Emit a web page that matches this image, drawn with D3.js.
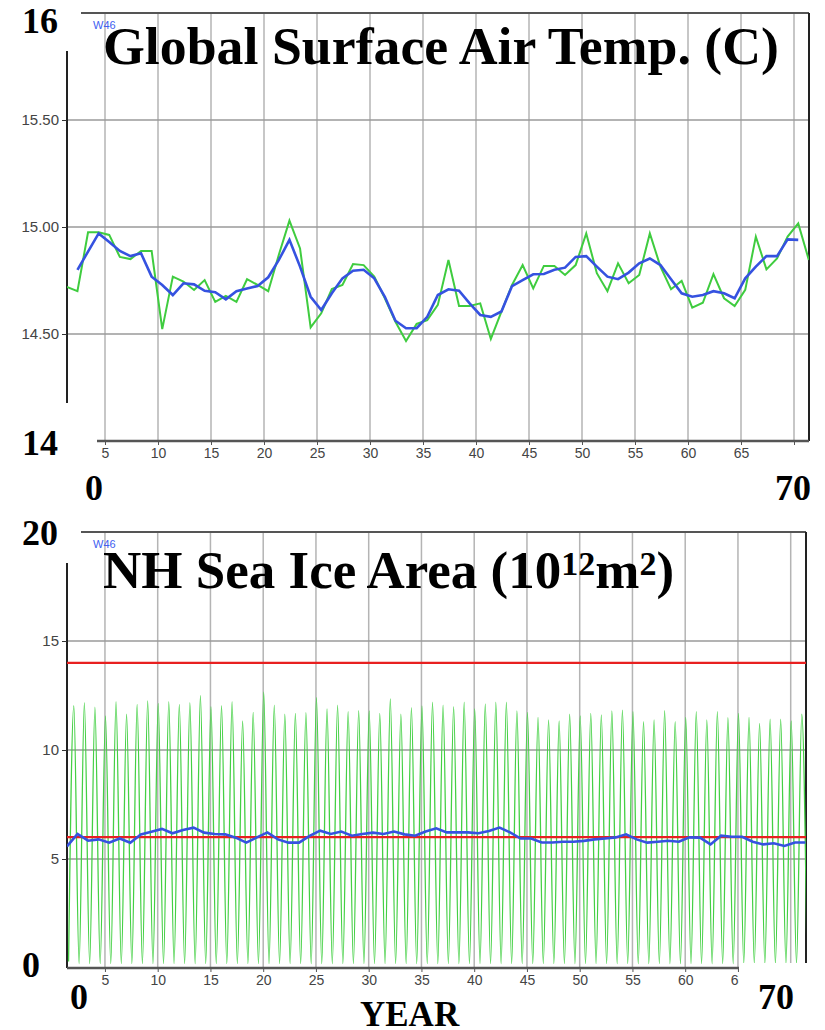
<!DOCTYPE html>
<html>
<head>
<meta charset="utf-8">
<script src="https://cdn.jsdelivr.net/npm/d3@7"></script>
<style>
body { margin: 0; background: #fff; }
svg { display: block; }
</style>
</head>
<body>
<div id="chart"></div>
<script>
// Global surface air temperature (C), one value per year, first one at year 1.4
var tempYear0 = 1.4;
var tempAnnual = [14.72, 14.70, 14.975, 14.975, 14.963, 14.86, 14.85, 14.888, 14.888, 14.523,
    14.768, 14.745, 14.706, 14.752, 14.65, 14.678, 14.65, 14.756, 14.729, 14.70,
    14.87, 15.03, 14.90, 14.531, 14.597, 14.71, 14.729, 14.827, 14.822, 14.768,
    14.667, 14.557, 14.467, 14.547, 14.565, 14.636, 14.846, 14.631, 14.631, 14.643,
    14.477, 14.605, 14.729, 14.822, 14.713, 14.818, 14.818, 14.776, 14.822, 14.97,
    14.784, 14.70, 14.83, 14.737, 14.776, 14.97, 14.815, 14.709, 14.748, 14.623,
    14.646, 14.78, 14.667, 14.631, 14.706, 14.955, 14.802, 14.853, 14.955, 15.017,
    14.846];
// running mean, starts one year after the annual series
var tempSmoothOffset = 1;
var tempSmooth = [14.80, 14.885, 14.97, 14.93, 14.888, 14.864, 14.877, 14.768, 14.729, 14.682,
    14.737, 14.732, 14.702, 14.695, 14.662, 14.70, 14.713, 14.724, 14.765, 14.846,
    14.94, 14.815, 14.674, 14.612, 14.69, 14.76, 14.796, 14.80, 14.76, 14.674,
    14.562, 14.527, 14.527, 14.58, 14.682, 14.709, 14.702, 14.643, 14.589, 14.58,
    14.605, 14.724, 14.752, 14.779, 14.78, 14.80, 14.81, 14.86, 14.864, 14.815,
    14.768, 14.756, 14.787, 14.83, 14.853, 14.822, 14.756, 14.69, 14.674, 14.682,
    14.70, 14.69, 14.667, 14.76, 14.815, 14.864, 14.864, 14.942, 14.94];
var tempTicks = [14.5, 15, 15.5];

// NH sea ice area (10^12 m^2): yearly maxima (from year 2.05) and minima (from year 1.55)
var iceMaxYear0 = 2.05;
var iceMax = [12.03, 12.17, 11.96, 11.56, 12.22, 11.64, 12.09, 12.25, 12.14, 12.22,
    12.09, 12.17, 12.49, 11.99, 12.03, 12.22, 11.33, 11.73, 12.65, 12.06,
    11.64, 11.68, 11.71, 12.40, 11.88, 12.06, 11.76, 11.80, 11.79, 11.68,
    12.34, 11.64, 11.94, 12.02, 12.19, 12.06, 11.99, 12.19, 11.88, 12.11,
    12.19, 12.19, 11.79, 11.73, 11.50, 11.38, 11.33, 11.64, 11.56, 11.68,
    11.61, 11.79, 11.83, 11.76, 11.30, 11.38, 11.80, 11.30, 11.50, 11.76,
    11.38, 11.76, 11.48, 11.68, 11.50, 11.22, 11.41, 11.41, 11.34, 11.64];
var iceMinYear0 = 1.55;
var iceMin = [0.3, 0.2, 0.2, 0.2, 0.2, 0.2, 0.2, 0.2, 0.2, 0.2,
    0.2, 0.2, 0.2, 0.2, 0.2, 0.2, 0.2, 0.2, 0.2, 0.2,
    0.2, 0.2, 0.2, 0.2, 0.2, 0.2, 0.2, 0.2, 0.2, 0.2,
    0.2, 0.2, 0.2, 0.2, 0.2, 0.2, 0.2, 0.2, 0.2, 0.2,
    0.2, 0.2, 0.2, 0.2, 0.2, 0.2, 0.2, 0.2, 0.2, 0.2,
    0.2, 0.2, 0.2, 0.2, 0.2, 0.2, 0.2, 0.2, 0.2, 0.2,
    0.2, 0.2, 0.2, 0.2, 0.2, 0.2, 0.2, 0.2, 0.2, 0.2, 0.2];
// annual mean, first one at year 1.4
var iceMeanYear0 = 1.4;
var iceMean = [5.58, 6.15, 5.84, 5.90, 5.75, 5.94, 5.75, 6.13, 6.25, 6.38,
    6.18, 6.33, 6.44, 6.21, 6.15, 6.13, 5.98, 5.75, 5.99, 6.22,
    5.90, 5.75, 5.75, 6.06, 6.30, 6.15, 6.26, 6.07, 6.15, 6.21,
    6.15, 6.26, 6.13, 6.07, 6.26, 6.41, 6.22, 6.22, 6.22, 6.18,
    6.28, 6.44, 6.22, 5.94, 5.94, 5.76, 5.76, 5.79, 5.79, 5.83,
    5.90, 5.94, 5.99, 6.13, 5.90, 5.75, 5.79, 5.84, 5.79, 5.99,
    5.98, 5.67, 6.07, 6.02, 6.02, 5.79, 5.67, 5.72, 5.60, 5.76, 5.76];
var iceRefLines = [14, 6];
var iceTicks = [5, 10, 15];

var yearTicks = [5, 10, 15, 20, 25, 30, 35, 40, 45, 50, 55, 60, 65, 70];
// the lower panel's 70 label sits under the pasted "70"
var iceYearLabels = [5, 10, 15, 20, 25, 30, 35, 40, 45, 50, 55, 60, 65];

var serif = '"Liberation Serif", "Times New Roman", serif';
var sans = '"Liberation Sans", Arial, sans-serif';

var svg = d3.select('#chart').append('svg')
    .attr('width', 825).attr('height', 1030);

function drawPanel(p) {
    var g = svg.append('g');
    var x = p.x, y = p.y;
    var yTop = y.range()[1], yBot = y.range()[0];

    g.append('clipPath').attr('id', p.id + '-clip')
        .append('rect')
        .attr('x', p.left).attr('y', yTop)
        .attr('width', p.right - p.left).attr('height', yBot - yTop);

    // vertical grid
    g.selectAll('.vgrid').data(yearTicks).enter().append('line')
        .attr('x1', function (d) { return x(d); })
        .attr('x2', function (d) { return x(d); })
        .attr('y1', yTop).attr('y2', yBot)
        .attr('stroke', '#b4b4b4').attr('stroke-width', 1.5);
    // horizontal grid
    g.selectAll('.hgrid').data(p.yTicks).enter().append('line')
        .attr('x1', p.left).attr('x2', p.right)
        .attr('y1', function (d) { return y(d); })
        .attr('y2', function (d) { return y(d); })
        .attr('stroke', '#9a9a9a').attr('stroke-width', 1.5);

    // frame
    g.append('line').attr('x1', p.left).attr('x2', p.right)
        .attr('y1', yTop).attr('y2', yTop)
        .attr('stroke', '#555').attr('stroke-width', 2);
    g.append('line').attr('x1', p.right).attr('x2', p.right)
        .attr('y1', yTop).attr('y2', yBot)
        .attr('stroke', '#222').attr('stroke-width', 2);
    g.append('line').attr('x1', p.left).attr('x2', p.left)
        .attr('y1', yTop).attr('y2', yBot)
        .attr('stroke', '#222').attr('stroke-width', 2);

    // axes
    var xAxis = g.append('g').attr('transform', 'translate(0,' + yBot + ')')
        .call(d3.axisBottom(x).tickValues(p.xLabels).tickSize(4).tickPadding(3));
    xAxis.select('.domain').remove();
    xAxis.selectAll('line').attr('stroke', '#555');
    xAxis.selectAll('text').attr('fill', '#444')
        .style('font-family', sans).style('font-size', '14px');
    g.append('line').attr('x1', p.left).attr('x2', p.right)
        .attr('y1', yBot).attr('y2', yBot)
        .attr('stroke', '#555').attr('stroke-width', 2.5);

    var yAxis = g.append('g').attr('transform', 'translate(' + p.left + ',0)')
        .call(d3.axisLeft(y).tickValues(p.yTicks).tickFormat(p.yFormat).tickSize(5).tickPadding(3));
    yAxis.select('.domain').remove();
    yAxis.selectAll('line').attr('stroke', '#333');
    yAxis.selectAll('text').attr('fill', '#444')
        .style('font-family', sans).style('font-size', '15px');

    var plot = g.append('g').attr('clip-path', 'url(#' + p.id + '-clip)');

    g.append('text').attr('x', 93).attr('y', yTop + 16)
        .attr('fill', '#4060f0')
        .style('font-family', sans).style('font-size', '11px')
        .text('W46');
    return plot;
}

// ---------- top: temperature ----------
var xT = d3.scaleLinear().domain([0, 70]).range([52, 794]);
var yT = d3.scaleLinear().domain([14, 16]).range([441, 13]);
var plotT = drawPanel({id: 'temp', x: xT, y: yT, left: 67, right: 809,
    yTicks: tempTicks, yFormat: d3.format('.2f'), xLabels: yearTicks});

plotT.append('path').datum(tempAnnual)
    .attr('fill', 'none').attr('stroke', '#3fcc3f').attr('stroke-width', 2)
    .attr('d', d3.line()
        .x(function (d, i) { return xT(tempYear0 + i); })
        .y(function (d) { return yT(d); }));
plotT.append('path').datum(tempSmooth)
    .attr('fill', 'none').attr('stroke', '#3552e0').attr('stroke-width', 2.6)
    .attr('d', d3.line()
        .x(function (d, i) { return xT(tempYear0 + tempSmoothOffset + i); })
        .y(function (d) { return yT(d); }));

// ---------- bottom: sea ice ----------
var xB = d3.scaleLinear().domain([0, 70]).range([52.2, 790.7]);
var yB = d3.scaleLinear().domain([0, 20]).range([968, 532]);
var plotB = drawPanel({id: 'ice', x: xB, y: yB, left: 67, right: 806,
    yTicks: iceTicks, yFormat: d3.format('d'), xLabels: iceYearLabels});

// merge maxima and minima into one seasonal cycle
var iceCycle = [];
iceMin.forEach(function (v, i) {
    iceCycle.push({year: iceMinYear0 + i, value: v});
    if (i < iceMax.length) iceCycle.push({year: iceMaxYear0 + i, value: iceMax[i]});
});
plotB.append('path').datum(iceCycle)
    .attr('fill', 'none').attr('stroke', '#44d044').attr('stroke-width', 1.3)
    .attr('d', d3.line().curve(d3.curveMonotoneX)
        .x(function (d) { return xB(d.year); })
        .y(function (d) { return yB(d.value); }));

plotB.selectAll('.ref').data(iceRefLines).enter().append('line')
    .attr('x1', 67).attr('x2', 806)
    .attr('y1', function (d) { return yB(d); })
    .attr('y2', function (d) { return yB(d); })
    .attr('stroke', '#e82020').attr('stroke-width', 2.2);

plotB.append('path').datum(iceMean)
    .attr('fill', 'none').attr('stroke', '#3552e0').attr('stroke-width', 2.6)
    .attr('d', d3.line()
        .x(function (d, i) { return xB(iceMeanYear0 + i); })
        .y(function (d) { return yB(d); }));

// ---------- pasted-on labels (white boxes cover what is underneath) ----------
var covers = [[0, 0, 81, 51], [0, 403, 97, 60], [768, 447, 57, 70],
    [0, 515, 81, 48], [739, 963, 86, 67]];
svg.selectAll('.cover').data(covers).enter().append('rect')
    .attr('x', function (d) { return d[0]; }).attr('y', function (d) { return d[1]; })
    .attr('width', function (d) { return d[2]; }).attr('height', function (d) { return d[3]; })
    .attr('fill', '#fff');

var notes = [['16', 22, 33], ['14', 22, 455], ['0', 85, 500], ['70', 775, 500],
    ['20', 22, 545], ['0', 22, 977], ['0', 70, 1009], ['70', 758, 1009]];
svg.selectAll('.note').data(notes).enter().append('text')
    .attr('x', function (d) { return d[1]; }).attr('y', function (d) { return d[2]; })
    .style('font-family', serif).style('font-weight', 'bold').style('font-size', '36px')
    .text(function (d) { return d[0]; });

svg.append('text').attr('x', 360).attr('y', 1026)
    .style('font-family', serif).style('font-weight', 'bold').style('font-size', '35px')
    .text('YEAR');

svg.append('text').attr('x', 103).attr('y', 64)
    .attr('textLength', 676).attr('lengthAdjust', 'spacingAndGlyphs')
    .style('font-family', serif).style('font-weight', 'bold').style('font-size', '53px')
    .text('Global Surface Air Temp. (C)');

var t2 = svg.append('text').attr('x', 103).attr('y', 588)
    .style('font-family', serif).style('font-weight', 'bold').style('font-size', '53px');
t2.append('tspan').text('NH Sea Ice Area (10');
t2.append('tspan').attr('dy', -13).style('font-size', '34px').text('12');
t2.append('tspan').attr('dy', 13).text('m');
t2.append('tspan').attr('dy', -13).style('font-size', '34px').text('2');
t2.append('tspan').attr('dy', 13).text(')');
</script>
</body>
</html>
